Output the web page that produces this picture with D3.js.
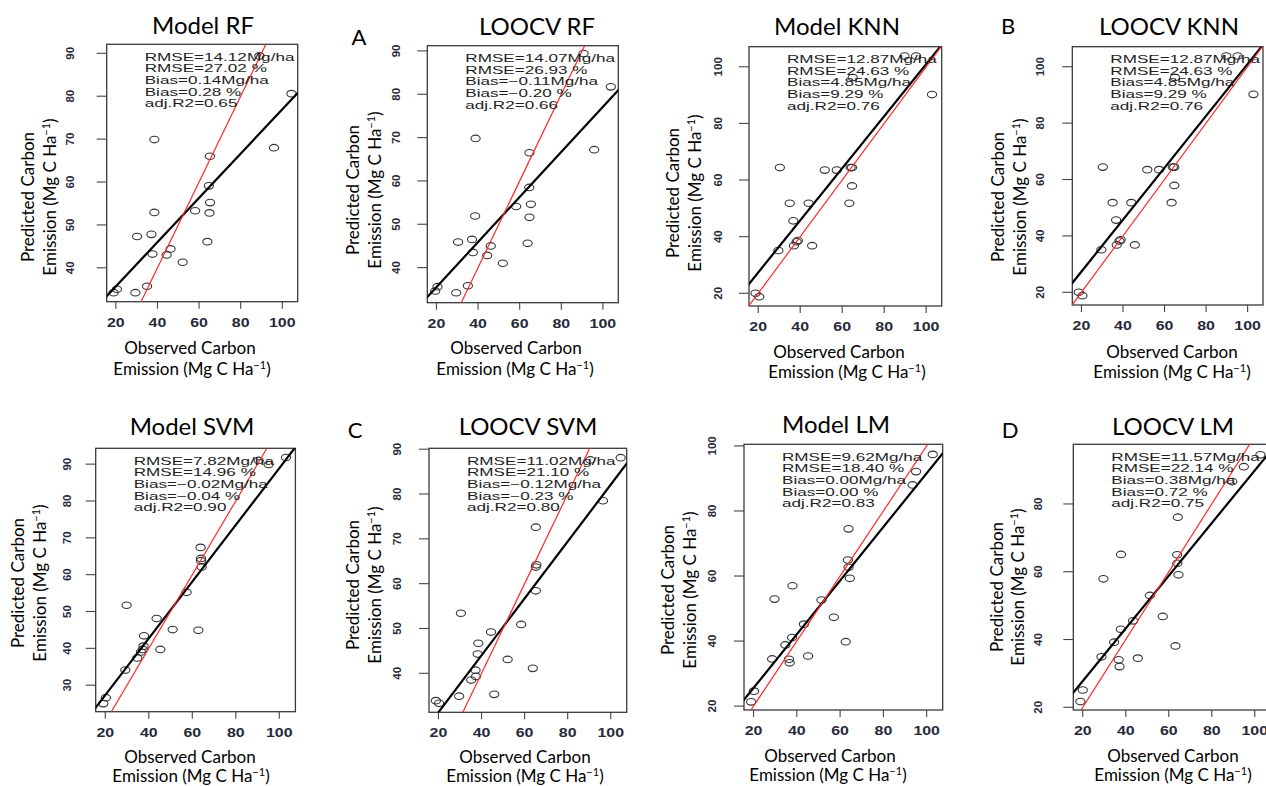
<!DOCTYPE html>
<html><head><meta charset="utf-8">
<script src="https://cdn.jsdelivr.net/npm/d3@7"></script>
<style>body{margin:0;background:#fff}svg{display:block}</style>
</head><body><svg id="c" width="1266" height="786"></svg>
<script>
// ---------------- DATA ----------------
const panelTitles = ["Model RF","LOOCV RF","Model KNN","LOOCV KNN","Model SVM","LOOCV SVM","Model LM","LOOCV LM"];
const panelLetters = ["","A","","B","","C","","D"];
const xTicks = [20,40,60,80,100];
const yTicks = [
  [40,50,60,70,80,90],[40,50,60,70,80,90],
  [20,40,60,80,100],[20,40,60,80,100],
  [30,40,50,60,70,80,90],[40,50,60,70,80,90],
  [20,40,60,80,100],[20,40,60,80]
];
const xTitle = ["Observed Carbon","Emission (Mg C Ha"];
const yTitle = ["Predicted Carbon","Emission (Mg C Ha"];

const rfModelObs  = [18.9,20.5,29.4,35.0,30.2,37.1,37.6,38.5,38.5,44.4,46.3,52.1,58.1,64.0,65.2,64.7,65.3,65.0,89.0,96.0,104.4];
const rfModelPred = [34.2,35.0,34.2,35.7,47.3,47.8,43.2,69.9,52.9,43.0,44.4,41.3,53.3,46.1,66.0,59.1,55.2,52.8,89.4,68.0,80.6];
const rfCvObs  = [19.4,20.5,29.5,35.1,30.4,37.1,37.5,38.8,38.6,44.4,46.1,51.9,58.3,63.8,64.7,64.6,65.4,64.7,90.7,95.8,103.8];
const rfCvPred = [34.6,35.6,34.2,35.8,45.9,46.5,43.5,69.8,51.9,42.8,45.0,41.0,54.1,45.6,66.5,58.5,54.6,51.6,89.4,67.2,81.7];
const knnModelObs  = [18.7,20.5,29.6,30.3,35.0,36.7,37.0,38.3,38.9,44.0,45.7,51.7,57.4,63.4,64.0,64.7,64.7,65.0,89.7,95.2,102.8];
const knnModelPred = [20.0,18.8,35.1,64.4,51.8,45.6,36.8,38.2,38.6,51.8,36.8,63.5,63.5,51.8,64.4,64.4,57.9,96.2,103.8,103.8,90.2];
const knnCvObs  = [18.7,20.5,29.6,30.3,35.0,36.7,37.0,38.3,38.9,44.0,45.7,51.7,57.4,63.4,64.0,64.7,64.7,65.0,89.7,95.2,102.8];
const knnCvPred = [20.0,18.8,35.1,64.4,51.8,45.6,36.8,38.2,38.6,51.8,36.8,63.5,63.5,51.8,64.4,64.4,57.9,96.2,103.8,103.8,90.2];
const svmModelObs  = [19.1,20.3,29.2,29.8,34.7,36.4,37.2,37.6,37.8,43.6,45.3,51.0,57.4,62.8,63.8,64.0,64.0,64.3,90.5,95.1,103.1];
const svmModelPred = [25.0,26.6,34.1,51.7,37.4,39.0,39.7,40.6,43.4,48.1,39.7,45.1,55.2,44.9,67.4,64.4,63.8,62.1,91.0,89.9,91.8];
const svmCvObs  = [18.8,20.3,29.6,30.4,35.2,37.2,37.4,38.5,38.2,44.4,45.9,52.1,58.4,63.8,65.2,65.5,65.2,65.2,90.5,96.4,104.6];
const svmCvPred = [33.9,33.3,34.9,53.4,38.5,40.7,39.3,46.7,44.3,49.2,35.3,43.1,50.9,41.1,72.6,64.2,63.7,58.4,87.6,78.5,88.1];
const lmModelObs  = [18.9,20.2,28.6,29.7,34.7,36.4,36.7,37.8,38.0,43.3,45.2,51.4,57.1,62.6,63.9,63.6,63.9,64.5,93.5,95.1,102.8];
const lmModelPred = [21.3,24.6,34.5,52.9,38.8,34.4,33.3,41.1,57.0,45.2,35.4,52.6,47.3,39.8,74.5,64.9,62.7,59.3,88.0,92.1,97.4];
const lmCvObs  = [18.9,20.0,28.7,29.6,34.6,36.7,37.1,37.7,37.8,43.4,45.6,51.2,57.2,63.1,64.2,63.9,64.0,64.5,89.5,94.9,102.6];
const lmCvPred = [21.7,25.1,34.9,57.9,39.2,34.0,32.0,43.0,65.1,45.5,34.5,53.0,46.8,38.1,76.1,65.0,62.5,59.1,86.6,91.0,94.5];

const observed  = [rfModelObs, rfCvObs, knnModelObs, knnCvObs, svmModelObs, svmCvObs, lmModelObs, lmCvObs];
const predicted = [rfModelPred, rfCvPred, knnModelPred, knnCvPred, svmModelPred, svmCvPred, lmModelPred, lmCvPred];

// fitted regression line (black): intercept, slope; red line is 1:1
const fitIntercepts = [25.35, 25.1, 8.95, 8.95, 11.9, 18.6, 9.1, 12.2];
const fitSlopes     = [0.516, 0.52, 0.92, 0.92, 0.77, 0.635, 0.825, 0.777];

const statsText = [
  ["RMSE=14.12Mg/ha","RMSE=27.02 %","Bias=0.14Mg/ha","Bias=0.28 %","adj.R2=0.65"],
  ["RMSE=14.07Mg/ha","RMSE=26.93 %","Bias=\u22120.11Mg/ha","Bias=\u22120.20 %","adj.R2=0.66"],
  ["RMSE=12.87Mg/ha","RMSE=24.63 %","Bias=4.85Mg/ha","Bias=9.29 %","adj.R2=0.76"],
  ["RMSE=12.87Mg/ha","RMSE=24.63 %","Bias=4.85Mg/ha","Bias=9.29 %","adj.R2=0.76"],
  ["RMSE=7.82Mg/ha","RMSE=14.96 %","Bias=\u22120.02Mg/ha","Bias=\u22120.04 %","adj.R2=0.90"],
  ["RMSE=11.02Mg/ha","RMSE=21.10 %","Bias=\u22120.12Mg/ha","Bias=\u22120.23 %","adj.R2=0.80"],
  ["RMSE=9.62Mg/ha","RMSE=18.40 %","Bias=0.00Mg/ha","Bias=0.00 %","adj.R2=0.83"],
  ["RMSE=11.57Mg/ha","RMSE=22.14 %","Bias=0.38Mg/ha","Bias=0.72 %","adj.R2=0.75"]
];
const xDomain = [15.6, 107.4];
const yDomains = [[32.1,92.1],[31.9,91.2],[15.5,107.1],[15.5,107.1],[22.8,94.3],[31.3,90.2],[18.8,100.5],[19.2,97.6]];

// ---------------- LAYOUT ----------------
const layout = [
  {l:106.7,t:44.3,r:297.7,b:301.7, tx:203, ty:34, lx:0,   ly:0,   yt:70,  yl:[28,50,197],   xl:[190,348,192,369]},
  {l:427.3,t:45.7,r:618.3,b:302.7, tx:537, ty:35, lx:359, ly:45,  yt:396, yl:[353,375,190], xl:[516,348,515,369]},
  {l:749,  t:46.7,r:941.7,b:306,   tx:837, ty:35, lx:0,   ly:0,   yt:718, yl:[673,695,193], xl:[839,352,847,372]},
  {l:1072.3,t:46.7,r:1263,b:305,   tx:1169,ty:35, lx:1008,ly:34,  yt:1040,yl:[998,1020,197],xl:[1172,352,1172,372]},
  {l:95.7, t:448.3,r:295.4,b:711.7,tx:192, ty:435,lx:0,   ly:0,   yt:67,  yl:[18,40,583],   xl:[190,757,191,776]},
  {l:429,  t:448.3,r:626.7,b:712.3,tx:528, ty:435,lx:355, ly:438, yt:397, yl:[353,375,585], xl:[525,757,525,776]},
  {l:744,  t:444.3,r:942.7,b:710,  tx:836, ty:433,lx:0,   ly:0,   yt:712, yl:[668,690,590], xl:[830,756,828,775]},
  {l:1073.3,t:444.3,r:1270.7,b:710,tx:1173,ty:435,lx:1010,ly:438, yt:1038,yl:[997,1018,587],xl:[1173,756,1173,775]}
];

const svg = d3.select("#c");
svg.append("rect").attr("width",1266).attr("height",786).attr("fill","#fff");
const defs = svg.append("defs");
const LATO = "Lato, 'Open Sans', sans-serif";
const ARIAL = "'Liberation Sans', Arial, sans-serif";

function addSup(textSel, base){
  textSel.append("tspan").text(base);
  textSel.append("tspan").attr("dy",-6).attr("font-size",11).text("\u22121");
  textSel.append("tspan").attr("dy",6).text(")");
}

layout.forEach((L, i) => {
  const x = d3.scaleLinear().domain(xDomain).range([L.l, L.r]);
  const y = d3.scaleLinear().domain(yDomains[i]).range([L.b, L.t]);
  const g = svg.append("g");
  const cid = "clip" + i;
  defs.append("clipPath").attr("id", cid).append("rect")
    .attr("x", L.l).attr("y", L.t).attr("width", L.r - L.l).attr("height", L.b - L.t);

  // title
  g.append("text").attr("x", L.tx).attr("y", L.ty).attr("text-anchor","middle")
    .attr("font-family", LATO).attr("font-size", 24).attr("fill","#000").text(panelTitles[i]);
  if (panelLetters[i]) {
    g.append("text").attr("x", L.lx).attr("y", L.ly).attr("text-anchor","middle")
      .attr("font-family", LATO).attr("font-size", 22).attr("fill","#000").text(panelLetters[i]);
  }

  // x ticks
  const xt = g.append("g");
  xTicks.forEach(v => {
    const px = x(v);
    xt.append("line").attr("x1",px).attr("x2",px).attr("y1",L.b).attr("y2",L.b+7)
      .attr("stroke","#444").attr("stroke-width",1.1);
    xt.append("text").attr("transform",`translate(${px},${L.b+25}) scale(1.33,1)`)
      .attr("text-anchor","middle").attr("font-family",ARIAL).attr("font-weight","bold")
      .attr("font-size",12).attr("fill","#262a3a").text(v);
  });
  // y ticks
  yTicks[i].forEach(v => {
    const py = y(v);
    xt.append("line").attr("x1",L.l-10).attr("x2",L.l).attr("y1",py).attr("y2",py)
      .attr("stroke","#444").attr("stroke-width",1.1);
    xt.append("text").attr("transform",`translate(${L.yt},${py}) rotate(-90)`)
      .attr("text-anchor","middle").attr("dy","0.36em").attr("font-family",ARIAL).attr("font-weight","bold")
      .attr("font-size",11.5).attr("fill","#262a3a").text(v);
  });

  // box
  g.append("rect").attr("x",L.l).attr("y",L.t).attr("width",L.r-L.l).attr("height",L.b-L.t)
    .attr("fill","none").attr("stroke","#3a3a3a").attr("stroke-width",1.3);

  // points
  const pts = observed[i].map((o, k) => [o, predicted[i][k]]);
  g.append("g").attr("clip-path", `url(#${cid})`).selectAll("ellipse").data(pts).join("ellipse")
    .attr("cx", d => x(d[0])).attr("cy", d => y(d[1])).attr("rx", 4.6).attr("ry", 3.3)
    .attr("fill","none").attr("stroke","#333").attr("stroke-width",1.1);

  // lines
  const lg = g.append("g").attr("clip-path", `url(#${cid})`);
  const x0 = xDomain[0] - 5, x1 = xDomain[1] + 5;
  lg.append("line").attr("x1", x(x0)).attr("y1", y(fitIntercepts[i] + fitSlopes[i]*x0))
    .attr("x2", x(x1)).attr("y2", y(fitIntercepts[i] + fitSlopes[i]*x1))
    .attr("stroke","#000").attr("stroke-width",2.2);
  lg.append("line").attr("x1", x(x0)).attr("y1", y(x0)).attr("x2", x(x1)).attr("y2", y(x1))
    .attr("stroke","#ff2a2a").attr("stroke-width",1.2);

  // stats
  statsText[i].forEach((s, k) => {
    g.append("text").attr("transform", `translate(${L.l+38},${L.t+16.5+k*11.6}) scale(1.45,1)`)
      .attr("font-family", ARIAL).attr("font-size", 11.8).attr("fill","#1e1e1e").text(s);
  });

  // axis titles
  g.append("text").attr("x", L.xl[0]).attr("y", L.xl[1]).attr("dy","0.35em").attr("text-anchor","middle")
    .attr("font-family", LATO).attr("font-size", 17).attr("fill","#000").text(xTitle[0]);
  addSup(g.append("text").attr("x", L.xl[2]).attr("y", L.xl[3]).attr("dy","0.35em").attr("text-anchor","middle")
    .attr("font-family", LATO).attr("font-size", 17).attr("fill","#000"), xTitle[1]);
  g.append("text").attr("transform", `translate(${L.yl[0]},${L.yl[2]}) rotate(-90)`).attr("dy","0.35em")
    .attr("text-anchor","middle").attr("font-family", LATO).attr("font-size", 17).attr("fill","#000").text(yTitle[0]);
  addSup(g.append("text").attr("transform", `translate(${L.yl[1]},${L.yl[2]}) rotate(-90)`).attr("dy","0.35em")
    .attr("text-anchor","middle").attr("font-family", LATO).attr("font-size", 17).attr("fill","#000"), yTitle[1]);
});
</script></body></html>
